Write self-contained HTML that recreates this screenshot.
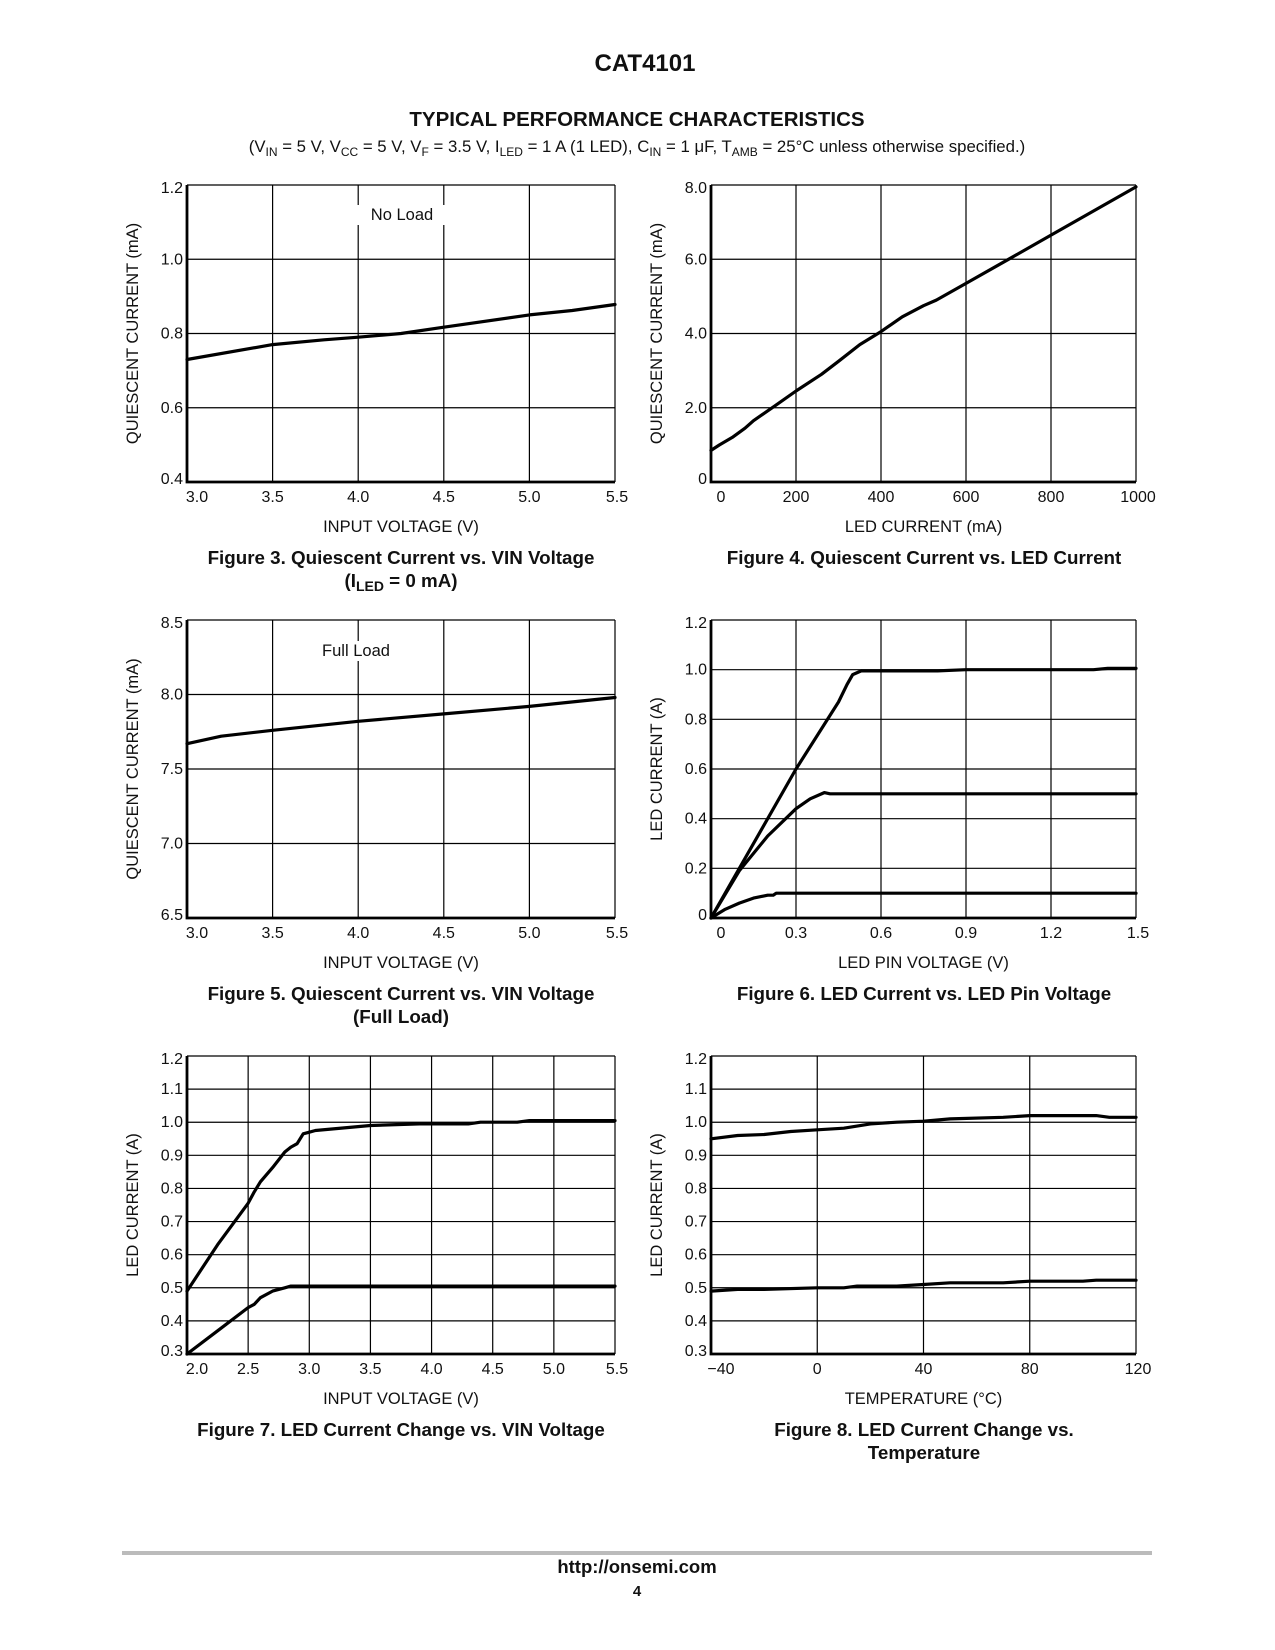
<!DOCTYPE html>
<html><head><meta charset="utf-8">
<style>
body{margin:0;background:#fff;font-family:"Liberation Sans",Arial,sans-serif;}
#page{position:relative;width:1275px;height:1650px;overflow:hidden;}
svg text{font-family:"Liberation Sans",Arial,sans-serif;fill:#111;}
</style></head>
<body>
<div id="page">
<svg id="svg" width="1275" height="1650" viewBox="0 0 1275 1650">
<text x="645" y="71" text-anchor="middle" font-size="24" font-weight="bold">CAT4101</text>
<text x="637" y="126" text-anchor="middle" font-size="20.5" font-weight="bold">TYPICAL PERFORMANCE CHARACTERISTICS</text>
<text x="637" y="152" text-anchor="middle" font-size="16.8">(V<tspan font-size="12" dy="4">IN</tspan><tspan dy="-4"> = 5 V, V</tspan><tspan font-size="12" dy="4">CC</tspan><tspan dy="-4"> = 5 V, V</tspan><tspan font-size="12" dy="4">F</tspan><tspan dy="-4"> = 3.5 V, I</tspan><tspan font-size="12" dy="4">LED</tspan><tspan dy="-4"> = 1 A (1 LED), C</tspan><tspan font-size="12" dy="4">IN</tspan><tspan dy="-4"> = 1 μF, T</tspan><tspan font-size="12" dy="4">AMB</tspan><tspan dy="-4"> = 25°C unless otherwise specified.)</tspan></text>
<rect x="122" y="1551" width="1030" height="4" fill="#bbb"/>
<text x="637" y="1573" text-anchor="middle" font-size="18.5" font-weight="bold">http://onsemi.com</text>
<text x="637" y="1596" text-anchor="middle" font-size="15" font-weight="bold">4</text>
</svg>
</div>
<script>
// Figure 3
const f3X=[3.0,3.5,3.8,4.0,4.25,4.5,5.0,5.25,5.5];
const f3Y=[0.73,0.77,0.783,0.79,0.80,0.817,0.85,0.862,0.878];
const f3XTicks=["3.0","3.5","4.0","4.5","5.0","5.5"];
const f3YTicks=["0.4","0.6","0.8","1.0","1.2"];
// Figure 4
const f4X=[0,20,50,80,100,150,200,260,300,350,400,450,500,530,600,700,800,900,1000];
const f4Y=[0.85,1.0,1.2,1.45,1.65,2.05,2.45,2.9,3.25,3.7,4.05,4.45,4.75,4.9,5.35,6.0,6.65,7.3,7.95];
const f4XTicks=["0","200","400","600","800","1000"];
const f4YTicks=["0","2.0","4.0","6.0","8.0"];
// Figure 5
const f5X=[3.0,3.2,3.5,4.0,4.5,5.0,5.5];
const f5Y=[7.67,7.72,7.76,7.82,7.87,7.92,7.98];
const f5XTicks=["3.0","3.5","4.0","4.5","5.0","5.5"];
const f5YTicks=["6.5","7.0","7.5","8.0","8.5"];
// Figure 6
const f6X1=[0,0.3,0.45,0.48,0.5,0.53,0.8,0.9,1.35,1.4,1.5];
const f6Y1=[0,0.6,0.87,0.94,0.98,0.995,0.995,1.0,1.0,1.005,1.005];
const f6X2=[0,0.1,0.2,0.3,0.35,0.4,0.42,1.5];
const f6Y2=[0,0.19,0.33,0.44,0.48,0.505,0.5,0.5];
const f6X3=[0,0.05,0.1,0.15,0.2,0.22,0.23,1.5];
const f6Y3=[0,0.035,0.06,0.08,0.092,0.092,0.1,0.1];
const f6XTicks=["0","0.3","0.6","0.9","1.2","1.5"];
const f6YTicks=["0","0.2","0.4","0.6","0.8","1.0","1.2"];
// Figure 7
const f7X1=[2.0,2.25,2.5,2.55,2.6,2.7,2.8,2.85,2.9,2.95,3.0,3.05,3.5,3.9,4.3,4.4,4.7,4.8,5.5];
const f7Y1=[0.49,0.63,0.755,0.79,0.82,0.863,0.91,0.925,0.935,0.965,0.97,0.975,0.99,0.995,0.995,1.0,1.0,1.005,1.005];
const f7X2=[2.0,2.25,2.5,2.55,2.6,2.7,2.8,2.85,5.5];
const f7Y2=[0.3,0.37,0.44,0.45,0.47,0.49,0.5,0.505,0.505];
const f7XTicks=["2.0","2.5","3.0","3.5","4.0","4.5","5.0","5.5"];
const f7YTicks=["0.3","0.4","0.5","0.6","0.7","0.8","0.9","1.0","1.1","1.2"];
// Figure 8
const f8X1=[-40,-30,-20,-10,0,10,20,30,40,50,70,80,105,110,120];
const f8Y1=[0.95,0.96,0.963,0.972,0.977,0.982,0.995,1.0,1.003,1.01,1.015,1.02,1.02,1.015,1.015];
const f8X2=[-40,-30,-20,0,10,15,30,40,50,70,80,100,105,120];
const f8Y2=[0.49,0.495,0.495,0.5,0.5,0.505,0.505,0.51,0.515,0.515,0.52,0.52,0.523,0.523];
const f8XTicks=["−40","0","40","80","120"];
const f8YTicks=["0.3","0.4","0.5","0.6","0.7","0.8","0.9","1.0","1.1","1.2"];

const NS="http://www.w3.org/2000/svg";
const svg=document.getElementById('svg');
function mk(tag,attrs,parent){const e=document.createElementNS(NS,tag);for(const k in attrs)e.setAttribute(k,attrs[k]);(parent||svg).appendChild(e);return e;}
function num(s){return parseFloat(String(s).replace('−','-'));}

function chart(o){
  const g=mk('g',{});
  
  
  const xv=o.xt.map(num), yv=o.yt.map(num);
  const x0=xv[0],x1=xv[xv.length-1],y0=yv[0],y1=yv[yv.length-1];
  const sx=v=>o.L+(v-x0)/(x1-x0)*(o.R-o.L);
  const sy=v=>o.B-(v-y0)/(y1-y0)*(o.B-o.T);
  xv.forEach((v,i)=>{
    const l=mk('line',{x1:sx(v),x2:sx(v),y1:o.T,y2:o.B,stroke:'#000','stroke-width':1.2},g);
    
    
    let tx=sx(v); if(i===0) tx+=10; if(i===xv.length-1) tx+=2;
    const t=mk('text',{x:tx,y:o.B+20,'text-anchor':'middle','font-size':16},g);
    t.textContent=o.xt[i];
    
    
  });
  yv.forEach((v,i)=>{
    const l=mk('line',{x1:o.L,x2:o.R,y1:sy(v),y2:sy(v),stroke:'#000','stroke-width':1.2},g);
    
    
    let ty=sy(v)+5; if(i===0) ty-=3; if(i===yv.length-1) ty+=3;
    const t=mk('text',{x:o.L-4,y:ty,'text-anchor':'end','font-size':16},g);
    t.textContent=o.yt[i];
    
    
  });
  const ax=mk('path',{d:`M${o.L},${o.T} V${o.B} H${o.R}`,fill:'none',stroke:'#000','stroke-width':2.8},g);
  
  
  if(o.note){
    const bg=mk('rect',{x:o.note.x-48,y:o.note.y-14,width:96,height:20,fill:'#fff'},g);
    
    
    const t=mk('text',{x:o.note.x,y:o.note.y+1,'text-anchor':'middle','font-size':16.5},g);
    t.textContent=o.note.text;
    
    
  }
  o.series.forEach((s,k)=>{
    const d=s[0].map((v,i)=>(i?'L':'M')+sx(v).toFixed(1)+','+sy(s[1][i]).toFixed(1)).join(' ');
    const p=mk('path',{d:d,fill:'none',stroke:'#000','stroke-width':3.2,'stroke-linejoin':'round','stroke-linecap':'round'},g);
    
    
  });
  const xtl=mk('text',{x:(o.L+o.R)/2,y:o.B+50,'text-anchor':'middle','font-size':16.5},g);
  xtl.textContent=o.xl;
  
  
  const cy=(o.T+o.B)/2, cx=o.L-49;
  const ytl=mk('text',{x:cx,y:cy,'text-anchor':'middle','font-size':16.5,transform:`rotate(-90 ${cx} ${cy})`},g);
  ytl.textContent=o.yl;
  
  
  o.cap.forEach((c,i)=>{
    const t=mk('text',{x:o.capX,y:o.B+82+i*23,'text-anchor':'middle','font-size':18.8,'font-weight':'bold'},g);
    t.innerHTML=c;
    
    
  });
}
const LL=187,LR=615,RL=711,RR=1136;
chart({name:'figure-3-chart',L:LL,R:LR,T:185,B:482,xt:f3XTicks,yt:f3YTicks,series:[[f3X,f3Y]],xl:'INPUT VOLTAGE (V)',yl:'QUIESCENT CURRENT (mA)',cap:['Figure 3. Quiescent Current vs. VIN Voltage','(I<tspan font-size="14" dy="4">LED</tspan><tspan dy="-4"> = 0 mA)</tspan>'],capX:401,note:{x:402,y:219,text:'No Load'}});
chart({name:'figure-4-chart',L:RL,R:RR,T:185,B:482,xt:f4XTicks,yt:f4YTicks,series:[[f4X,f4Y]],xl:'LED CURRENT (mA)',yl:'QUIESCENT CURRENT (mA)',cap:['Figure 4. Quiescent Current vs. LED Current'],capX:924});
chart({name:'figure-5-chart',L:LL,R:LR,T:620,B:918,xt:f5XTicks,yt:f5YTicks,series:[[f5X,f5Y]],xl:'INPUT VOLTAGE (V)',yl:'QUIESCENT CURRENT (mA)',cap:['Figure 5. Quiescent Current vs. VIN Voltage','(Full Load)'],capX:401,note:{x:356,y:655,text:'Full Load'}});
chart({name:'figure-6-chart',L:RL,R:RR,T:620,B:918,xt:f6XTicks,yt:f6YTicks,series:[[f6X1,f6Y1],[f6X2,f6Y2],[f6X3,f6Y3]],xl:'LED PIN VOLTAGE (V)',yl:'LED CURRENT (A)',cap:['Figure 6. LED Current vs. LED Pin Voltage'],capX:924});
chart({name:'figure-7-chart',L:LL,R:LR,T:1056,B:1354,xt:f7XTicks,yt:f7YTicks,series:[[f7X1,f7Y1],[f7X2,f7Y2]],xl:'INPUT VOLTAGE (V)',yl:'LED CURRENT (A)',cap:['Figure 7. LED Current Change vs. VIN Voltage'],capX:401});
chart({name:'figure-8-chart',L:RL,R:RR,T:1056,B:1354,xt:f8XTicks,yt:f8YTicks,series:[[f8X1,f8Y1],[f8X2,f8Y2]],xl:'TEMPERATURE (°C)',yl:'LED CURRENT (A)',cap:['Figure 8. LED Current Change vs.','Temperature'],capX:924});
</script>
</body></html>
